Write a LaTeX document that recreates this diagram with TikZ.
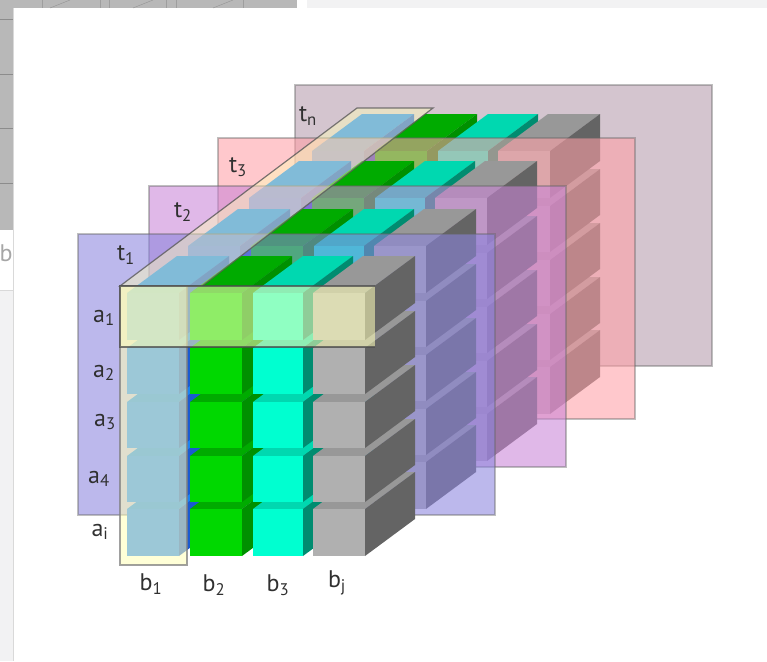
\documentclass[tikz,border=0pt]{standalone}
\usepackage{xcolor}
\usepackage{fontspec}
\setmainfont{PT Sans}
\usepackage{tikz}

\definecolor{cellblueF}{HTML}{1E82FF}
\definecolor{cellblueT}{HTML}{1A84F4}
\definecolor{cellblueS}{HTML}{1A5AD0}
\definecolor{cellgreenF}{HTML}{00D800}
\definecolor{cellgreenT}{HTML}{00AB00}
\definecolor{cellgreenS}{HTML}{009000}
\definecolor{cellcyanF}{HTML}{00FFD0}
\definecolor{cellcyanT}{HTML}{00D8B0}
\definecolor{cellcyanS}{HTML}{008C70}
\definecolor{cellgrayF}{HTML}{B0B0B0}
\definecolor{cellgrayT}{HTML}{989898}
\definecolor{cellgrayS}{HTML}{646464}
\definecolor{planeone}{HTML}{8B84DE}
\definecolor{planetwo}{HTML}{CA85D7}
\definecolor{planethree}{HTML}{FFA0A7}
\definecolor{planen}{HTML}{B59BAC}
\definecolor{slabyellow}{HTML}{FFFFB8}
\definecolor{labeltext}{HTML}{303030}

% one cuboid: x left, x right, y top, y bottom, colour stem
\newcommand{\cubecell}[5]{
  \fill[#5T] (#1,#3) -- ++(50,-37) -- (#2+50,#3-37) -- (#2,#3) -- cycle;
  \fill[#5S] (#2,#3) -- ++(50,-37) -- (#2+50,#4-37) -- (#2,#4) -- cycle;
  \fill[#5F] (#1,#3) rectangle (#2,#4);
}

\begin{document}
\begin{tikzpicture}[
    x=1pt, y=-1pt,
    plane/.style={fill opacity=0.58, draw=black!60, draw opacity=0.42, line width=1.4pt},
    slabcolumn/.style={fill=slabyellow, fill opacity=0.56, draw=black!50, draw opacity=0.75, line width=1.5pt},
    slabrow/.style={fill=slabyellow, fill opacity=0.56},
    slabedge/.style={draw=black!70, draw opacity=0.75, line width=1.5pt},
    slabtop/.style={fill=slabyellow, fill opacity=0.45, draw=black!65, draw opacity=0.8, line width=1.2pt},
    axislabel/.style={font=\fontsize{24}{26}\selectfont, text=labeltext, inner sep=0pt}
]
\useasboundingbox (0,0) rectangle (767,661);
% screenshot leftovers round the sheet
\fill[black!28] (0,0) rectangle (13,230);
\fill[black!28] (13,0) rectangle (297,8);
\fill[blue!5!black!5] (307,0) rectangle (767,8);
\fill[blue!3!black!5] (0,291) rectangle (13,661);
\foreach \liney in {19,74,128,183}
  \draw[black!45] (0,\liney) -- (13,\liney);
\foreach \stripx in {42,100,109,166,176,243}
  \draw[black!38] (\stripx,0) -- (\stripx,8);
\foreach \stripx in {50,133,213}
  \draw[black!42] (\stripx,8) -- ++(20,-8);
\draw[black!15] (13,8) -- (13,661);
\draw[black!15] (0,290) -- (13,290);
\node[font=\fontsize{24}{26}\selectfont, text=black!35, inner sep=0pt] (cutb) at (6,253) {b};

% planes, each with its block of cuboids, back to front
\foreach \planex/\planey/\tint/\movex/\movey in {
    295/85/planen/185/-142,
    218/138/planethree/122/-95,
    149/186/planetwo/61/-47,
    78/234/planeone/0/0} {
  \filldraw[plane, fill=\tint] (\planex,\planey) rectangle ++(417,281);
  \begin{scope}[shift={(\movex,\movey)}]
    \foreach \xa/\xb/\stem in {127/179/cellblue,190/242/cellgreen,253/303/cellcyan,313/365/cellgray} {
      \foreach \ya/\yb in {509/556,456/502,402/448,348/394,293/340} {
        \cubecell{\xa}{\xb}{\ya}{\yb}{\stem}
      }
    }
  \end{scope}
}

% selected column and row
\filldraw[slabtop] (120,286) -- (357,108) -- (433,108) -- (202,286) -- cycle;
\filldraw[slabcolumn] (120,286) rectangle (187,565);
\fill[slabrow] (120,286) rectangle (375,347);
\draw[slabedge] (375,286) -- (120,286) -- (120,347) -- (375,347);

\node[axislabel] (tn) at (308,116) {t\textsubscript{n}};
\node[axislabel] (tthree) at (238,167) {t\textsubscript{3}};
\node[axislabel] (ttwo) at (183,212) {t\textsubscript{2}};
\node[axislabel] (tone) at (126,255) {t\textsubscript{1}};
\node[axislabel] (aone) at (104,318) {a\textsubscript{1}};
\node[axislabel] (atwo) at (104,373) {a\textsubscript{2}};
\node[axislabel] (athree) at (105,422) {a\textsubscript{3}};
\node[axislabel] (afour) at (99,479) {a\textsubscript{4}};
\node[axislabel] (ai) at (100,532) {a\textsubscript{i}};
\node[axislabel] (bone) at (151,584) {b\textsubscript{1}};
\node[axislabel] (btwo) at (214,585) {b\textsubscript{2}};
\node[axislabel] (bthree) at (278,585) {b\textsubscript{3}};
\node[axislabel] (bj) at (337,583) {b\textsubscript{j}};
\end{tikzpicture}
\end{document}
